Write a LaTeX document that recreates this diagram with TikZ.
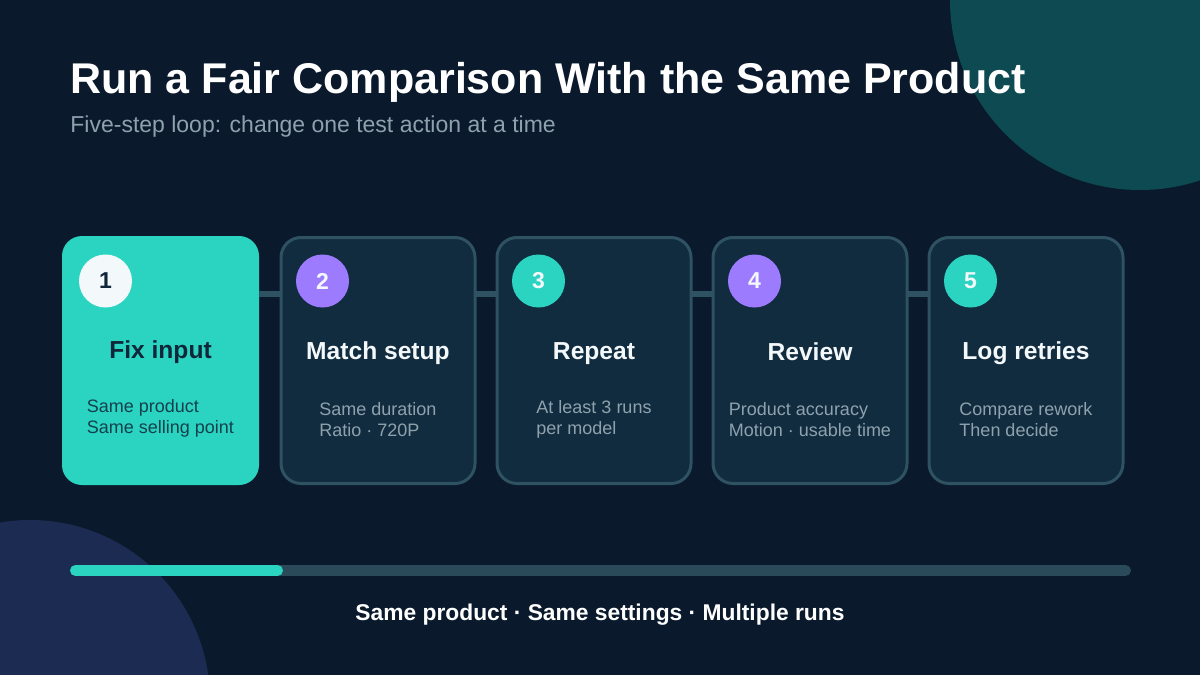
\documentclass[tikz,border=0pt]{standalone}
\usepackage{fontspec}
\setmainfont{Liberation Sans}
\usetikzlibrary{positioning}

\definecolor{bgnavy}{HTML}{0A1A2C}
\definecolor{decoteal}{HTML}{0E4A52}
\definecolor{decoblue}{HTML}{1B2B52}
\definecolor{cardfill}{HTML}{122C3F}
\definecolor{cardline}{HTML}{2E5262}
\definecolor{accteal}{HTML}{2BD4C1}
\definecolor{accpurple}{HTML}{9C7BFF}
\definecolor{softwhite}{HTML}{F3F8FA}
\definecolor{muted}{HTML}{8EA2AE}
\definecolor{inkdark}{HTML}{10263A}
\definecolor{track}{HTML}{2A4A5A}

\begin{document}
\begin{tikzpicture}[
    x=0.5pt, y=-0.5pt,
    node distance=11pt,
    card/.style={rectangle, rounded corners=10pt, draw=cardline, line width=1.5pt, fill=cardfill, minimum width=97pt, minimum height=123pt, inner sep=0pt, outer sep=0pt},
    firstcard/.style={card, draw=none, fill=accteal, minimum width=98.5pt, minimum height=124.5pt},
    badge/.style={circle, minimum size=26.5pt, inner sep=0pt, font=\fontsize{11.5}{12}\selectfont\bfseries, text=softwhite},
    head/.style={anchor=base, font=\fontsize{12.3}{14}\selectfont\bfseries, text=softwhite},
    body/.style={align=left, inner sep=0pt, font=\fontsize{9}{10.5}\selectfont, text=muted},
    link/.style={draw=cardline, line width=3pt},
    bar/.style={line width=5.5pt, line cap=round}
]
% background and decoration
\fill[bgnavy] (0,0) rectangle (1200,675);
\useasboundingbox (0,0) rectangle (1200,675);
\begin{scope}
\clip (0,0) rectangle (1200,675);
\fill[decoteal] (1140,0) circle (95pt);
\fill[decoblue] (30,700) circle (90pt);
\end{scope}

% heading
\node[anchor=base west, inner sep=0pt, font=\fontsize{21.5}{24}\selectfont\bfseries, text=white] (title) at (70,93) {Run a Fair Comparison With the Same Product};
\node[anchor=base west, inner sep=0pt, font=\fontsize{11.5}{13}\selectfont, text=muted] (sub) at (70,132) {Five-step loop: change one test action at a time};

% steps
\node[firstcard] (c1) at (160.5,360.5) {};
\node[card, right=of c1] (c2) {};
\node[card, right=of c2] (c3) {};
\node[card, right=of c3] (c4) {};
\node[card, right=of c4] (c5) {};

\draw[link] (c1.east |- 0,294) -- (c2.west |- 0,294);
\draw[link] (c2.east |- 0,294) -- (c3.west |- 0,294);
\draw[link] (c3.east |- 0,294) -- (c4.west |- 0,294);
\draw[link] (c4.east |- 0,294) -- (c5.west |- 0,294);

\node[badge, fill=softwhite, text=inkdark] (b1) at ([xshift=21.75pt,yshift=-22.5pt]c1.north west) {1};
\node[badge, fill=accpurple] (b2) at ([xshift=20.75pt,yshift=-21.75pt]c2.north west) {2};
\node[badge, fill=accteal] (b3) at ([xshift=20.75pt,yshift=-21.75pt]c3.north west) {3};
\node[badge, fill=accpurple] (b4) at ([xshift=20.75pt,yshift=-21.75pt]c4.north west) {4};
\node[badge, fill=accteal] (b5) at ([xshift=20.75pt,yshift=-21.75pt]c5.north west) {5};

\node[head, text=inkdark] (h1) at ([yshift=-61pt]c1.north) {Fix input};
\node[head] (h2) at ([yshift=-61pt]c2.north) {Match setup};
\node[head] (h3) at ([yshift=-61pt]c3.north) {Repeat};
\node[head] (h4) at ([yshift=-61.5pt]c4.north) {Review};
\node[head] (h5) at ([yshift=-61pt]c5.north) {Log retries};

\node[body, text=inkdark!85!accteal] (t1) at ([yshift=-91pt]c1.north) {Same product\\Same selling point};
\node[body] (t2) at ([yshift=-91pt]c2.north) {Same duration\\Ratio · 720P};
\node[body] (t3) at ([yshift=-91pt]c3.north) {At least 3 runs\\per model};
\node[body] (t4) at ([yshift=-91pt]c4.north) {Product accuracy\\Motion · usable time};
\node[body] (t5) at ([yshift=-91pt]c5.north) {Compare rework\\Then decide};

% progress
\coordinate (p0) at (75.5,570.5);
\coordinate (p1) at (277.5,570.5);
\coordinate (p2) at (1125.5,570.5);
\draw[bar, track] (p0) -- (p2);
\draw[bar, accteal] (p0) -- (p1);

\node[anchor=base, inner sep=0pt, font=\fontsize{11.4}{13}\selectfont\bfseries, text=white] (foot) at (600,620) {Same product · Same settings · Multiple runs};
\end{tikzpicture}
\end{document}
